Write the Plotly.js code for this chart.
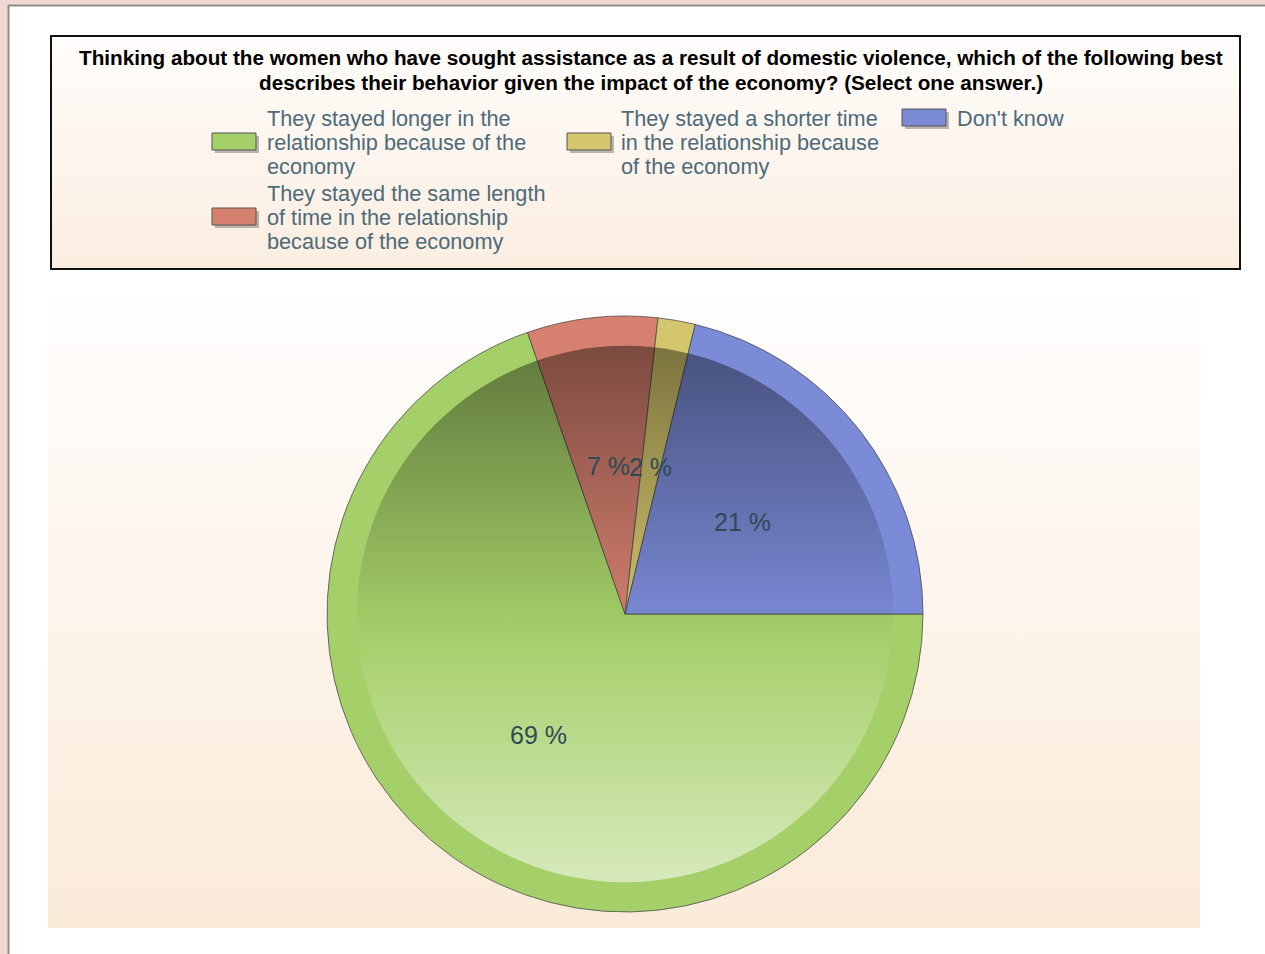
<!DOCTYPE html>
<html>
<head>
<meta charset="utf-8">
<script src="https://cdn.plot.ly/plotly-3.0.1.min.js"></script>
<style>html,body{margin:0;padding:0;background:#fff;}#chart{width:1265px;height:954px;}</style>
</head>
<body>
<div id="chart"></div>
<script>
// ---- data ----
const titleLines = [
  "Thinking about the women who have sought assistance as a result of domestic violence, which of the following best",
  "describes their behavior given the impact of the economy? (Select one answer.)"
];
const categories = [
  "They stayed longer in the<br>relationship because of the<br>economy",
  "They stayed the same length<br>of time in the relationship<br>because of the economy",
  "They stayed a shorter time<br>in the relationship because<br>of the economy",
  "Don't know"
];
const values = [69, 7, 2, 21];
const sliceColors = ["#a5cf68", "#d6806f", "#d4c66c", "#7b8bd8"];

// ---- layout helpers (pixel -> paper) ----
const W = 1265, H = 954;
const px = x => x / W;
const py = y => 1 - y / H;
const cx = 625, cy = 614, R = 298;

function svgURI(svg) { return 'data:image/svg+xml;charset=utf-8,' + encodeURIComponent(svg); }
function vGrad(top, bottom) {
  return svgURI('<svg xmlns="http://www.w3.org/2000/svg" width="100" height="100" viewBox="0 0 100 100" preserveAspectRatio="none"><defs><linearGradient id="g" x1="0" y1="0" x2="0" y2="1"><stop offset="0" stop-color="' + top + '"/><stop offset="1" stop-color="' + bottom + '"/></linearGradient></defs><rect width="100" height="100" fill="url(#g)"/></svg>');
}
const overlaySVG = svgURI('<svg xmlns="http://www.w3.org/2000/svg" width="600" height="600" viewBox="0 0 600 600"><defs><linearGradient id="o" x1="0" y1="0" x2="0" y2="1">' +
  '<stop offset="0" stop-color="#000" stop-opacity="0.42"/>' +
  '<stop offset="0.5" stop-color="#000" stop-opacity="0.03"/>' +
  '<stop offset="0.55" stop-color="#fff" stop-opacity="0.02"/>' +
  '<stop offset="1" stop-color="#fff" stop-opacity="0.55"/>' +
  '</linearGradient></defs><circle cx="300" cy="300" r="270" fill="url(#o)"/></svg>');

const pieTrace = {
  type: 'pie',
  labels: categories.map(c => c.replace(/<br>/g, ' ')),
  values: values,
  sort: false,
  direction: 'clockwise',
  rotation: 90,
  textinfo: 'none',
  hoverinfo: 'label+percent',
  showlegend: false,
  marker: { colors: sliceColors, line: { color: 'rgba(70,70,70,0.75)', width: 1 } },
  domain: { x: [px(cx - R), px(cx + R)], y: [py(cy + R), py(cy - R)] }
};

const annotations = [];

// title (two centred bold lines)
titleLines.forEach((t, k) => {
  annotations.push({
    xref: 'paper', yref: 'paper', x: px(651), y: py(58 + k * 24),
    text: '<b>' + t + '</b>', showarrow: false, xanchor: 'center', yanchor: 'middle',
    font: { family: '"Liberation Sans", Arial, sans-serif', size: 20.7, color: '#000' }
  });
});

// slice labels at half radius on each slice's mid-angle
const total = values.reduce((a, b) => a + b, 0);
let cum = 0;
values.forEach(v => {
  const mid = (90 + (cum + v / 2) / total * 360) * Math.PI / 180;
  cum += v;
  annotations.push({
    xref: 'paper', yref: 'paper',
    x: px(cx + 0.5 * R * Math.sin(mid)), y: py(cy - 0.5 * R * Math.cos(mid)),
    text: v + ' %', showarrow: false, xanchor: 'center', yanchor: 'middle',
    font: { family: '"Liberation Sans", Arial, sans-serif', size: 25, color: '#2e4a55' }
  });
});

// custom legend laid out as in the reference (3 columns)
const legendSlots = [
  { sx: 212, tx: 265, y: 118 },
  { sx: 212, tx: 265, y: 193 },
  { sx: 567, tx: 619, y: 118 },
  { sx: 902, tx: 955, y: 118 }
];
const shapes = [
  // page frame
  { type: 'rect', xref: 'paper', yref: 'paper', x0: 0, x1: px(8), y0: 0, y1: 1, fillcolor: '#f3d8d2', line: { width: 0 }, layer: 'below' },
  { type: 'rect', xref: 'paper', yref: 'paper', x0: 0, x1: 1, y0: py(5), y1: 1, fillcolor: '#f3d8d2', line: { width: 0 }, layer: 'below' },
  { type: 'line', xref: 'paper', yref: 'paper', x0: px(8.5), x1: px(8.5), y0: 0, y1: py(5), line: { color: '#8c8c8c', width: 2 }, layer: 'below' },
  { type: 'line', xref: 'paper', yref: 'paper', x0: px(8), x1: 1, y0: py(5.5), y1: py(5.5), line: { color: '#8c8c8c', width: 2 }, layer: 'below' },
  // legend box border
  { type: 'rect', xref: 'paper', yref: 'paper', x0: px(51), x1: px(1240), y0: py(269), y1: py(36), line: { color: '#111', width: 2 }, layer: 'below' }
];
const legendFont = { family: '"Liberation Sans", Arial, sans-serif', size: 21.7, color: '#4d6a79' };
categories.forEach((c, i) => {
  const s = legendSlots[i];
  const lines = c.split('<br>');
  const mid = s.y + (lines.length - 1) * 12;
  // shadow
  shapes.push({ type: 'rect', xref: 'paper', yref: 'paper', x0: px(s.sx + 3), x1: px(s.sx + 47), y0: py(mid + 11), y1: py(mid - 6), fillcolor: 'rgba(60,60,60,0.35)', line: { width: 0 } });
  shapes.push({ type: 'rect', xref: 'paper', yref: 'paper', x0: px(s.sx), x1: px(s.sx + 44), y0: py(mid + 8), y1: py(mid - 9), fillcolor: sliceColors[i], line: { color: '#555', width: 1 } });
  lines.forEach((ln, k) => {
    annotations.push({
      xref: 'paper', yref: 'paper', x: px(s.tx), y: py(s.y + k * 24),
      text: ln, showarrow: false, xanchor: 'left', yanchor: 'middle', font: legendFont
    });
  });
});

const layout = {
  width: W, height: H,
  margin: { l: 0, r: 0, t: 0, b: 0 },
  paper_bgcolor: '#ffffff',
  showlegend: false,
  images: [
    { source: vGrad('#fffdfb', '#fbede0'), xref: 'paper', yref: 'paper', x: px(51), y: py(36), sizex: (1240 - 51) / W, sizey: (269 - 36) / H, sizing: 'stretch', xanchor: 'left', yanchor: 'top', layer: 'below' },
    { source: vGrad('#fffefd', '#faead8'), xref: 'paper', yref: 'paper', x: px(48), y: py(300), sizex: (1200 - 48) / W, sizey: (928 - 300) / H, sizing: 'stretch', xanchor: 'left', yanchor: 'top', layer: 'below' },
    { source: overlaySVG, xref: 'paper', yref: 'paper', x: px(cx - R), y: py(cy - R), sizex: 2 * R / W, sizey: 2 * R / H, sizing: 'stretch', xanchor: 'left', yanchor: 'top', layer: 'above' }
  ],
  shapes: shapes,
  annotations: annotations
};

Plotly.newPlot('chart', [pieTrace], layout, { displayModeBar: false, responsive: false });
</script>
</body>
</html>
